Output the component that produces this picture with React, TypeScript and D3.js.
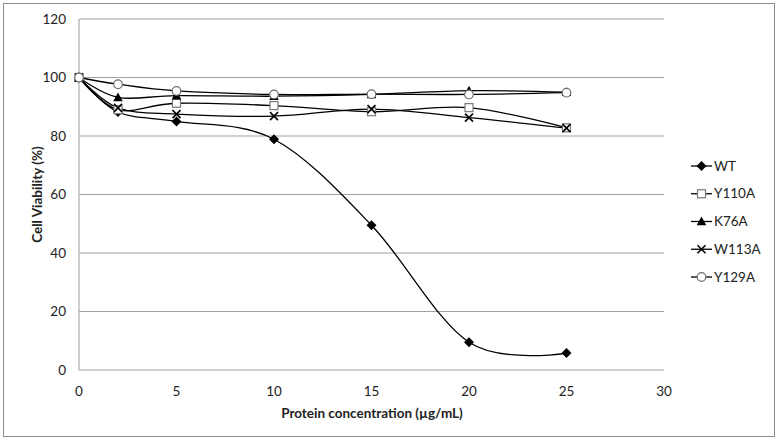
import React from 'react';
import * as d3 from 'd3';

// protein concentration (ug/mL)
const concentrations = [0, 2, 5, 10, 15, 20, 25];

const seriesNames = ['WT', 'Y110A', 'K76A', 'W113A', 'Y129A'];
const wt = [100, 88.2, 85, 78.9, 49.5, 9.5, 5.8];
const y110a = [100, 89, 91.2, 90.4, 88.3, 89.7, 82.8];
const k76a = [100, 93.2, 93.8, 93.6, 94.2, 95.5, 95];
const w113a = [100, 89.6, 87.5, 86.8, 89.2, 86.3, 82.7];
const y129a = [100, 97.7, 95.4, 94.2, 94.3, 94.2, 94.8];

const xTicks = [0, 5, 10, 15, 20, 25, 30];
const yTicks = [0, 20, 40, 60, 80, 100, 120];

const W = 782;
const H = 442;
const font = 'Lato, "Open Sans", sans-serif';

function Marker({ kind, x, y }: { kind: number; x: number; y: number }) {
  if (kind === 0) {
    const s = 5;
    return <path d={`M${x},${y - s}L${x + s},${y}L${x},${y + s}L${x - s},${y}Z`} fill="#000" />;
  }
  if (kind === 1) {
    return <rect x={x - 4} y={y - 4} width={8} height={8} fill="#fff" stroke="#7a7a7a" strokeWidth={1.2} />;
  }
  if (kind === 2) {
    return <path d={`M${x},${y - 5}L${x + 4.8},${y + 3.8}L${x - 4.8},${y + 3.8}Z`} fill="#000" />;
  }
  if (kind === 3) {
    const s = 4;
    return (
      <path
        d={`M${x - s},${y - s}L${x + s},${y + s}M${x - s},${y + s}L${x + s},${y - s}`}
        stroke="#000"
        strokeWidth={1.6}
      />
    );
  }
  return <circle cx={x} cy={y} r={4.3} fill="#fff" stroke="#6e6e6e" strokeWidth={1.2} />;
}

export default function App() {
  const x = d3.scaleLinear().domain([0, 30]).range([79, 664]);
  const y = d3.scaleLinear().domain([0, 120]).range([370, 19]);
  const all = [wt, y110a, k76a, w113a, y129a];

  const line = d3
    .line<number>()
    .x((_, i) => x(concentrations[i]))
    .y((d) => y(d))
    .curve(d3.curveCatmullRom.alpha(0));

  const legendX = 691;
  const legendY = d3.scalePoint<string>().domain(seriesNames).range([166, 277]);

  return (
    <svg
      width={W}
      height={H}
      style={{ position: 'absolute', left: 0, top: 0, background: '#fff' }}
      fontFamily={font}
    >
      <rect x={3.5} y={3.5} width={771} height={433} fill="#fff" stroke="#8c8c8c" />
      {yTicks.map((t) => (
        <g key={t}>
          <line x1={x(0)} x2={x(30)} y1={y(t)} y2={y(t)} stroke="#a3a3a3" strokeWidth={1.1} />
          <text x={66} y={y(t)} dy="0.35em" textAnchor="end" fontSize={13.5} fill="#222">
            {t}
          </text>
        </g>
      ))}
      <line x1={x(0)} x2={x(0)} y1={y(120)} y2={y(0)} stroke="#a3a3a3" strokeWidth={1.1} />
      {xTicks.map((t) => (
        <text key={t} x={x(t)} y={391} dy="0.35em" textAnchor="middle" fontSize={13.5} fill="#222">
          {t}
        </text>
      ))}
      <text x={372} y={418} textAnchor="middle" fontSize={13.5} fontWeight="bold" fill="#222">
        Protein concentration (µg/mL)
      </text>
      <text
        transform={`translate(42,${y(60)}) rotate(-90)`}
        textAnchor="middle"
        fontSize={13.5}
        fontWeight="bold"
        fill="#222"
      >
        Cell Viability (%)
      </text>

      {all.map((s, k) => (
        <path key={k} d={line(s) || ''} fill="none" stroke="#000" strokeWidth={1.3} />
      ))}
      {all.map((s, k) => (
        <g key={k}>
          {s.map((v, i) => (
            <Marker key={i} kind={k} x={x(concentrations[i])} y={y(v)} />
          ))}
        </g>
      ))}

      {seriesNames.map((n, k) => {
        const ly = legendY(n) || 0;
        return (
          <g key={n}>
            <line x1={legendX} x2={legendX + 21} y1={ly} y2={ly} stroke="#000" strokeWidth={1.3} />
            <Marker kind={k} x={legendX + 10.5} y={ly} />
            <text x={legendX + 23} y={ly} dy="0.35em" fontSize={13.5} fill="#222">
              {n}
            </text>
          </g>
        );
      })}
    </svg>
  );
}
